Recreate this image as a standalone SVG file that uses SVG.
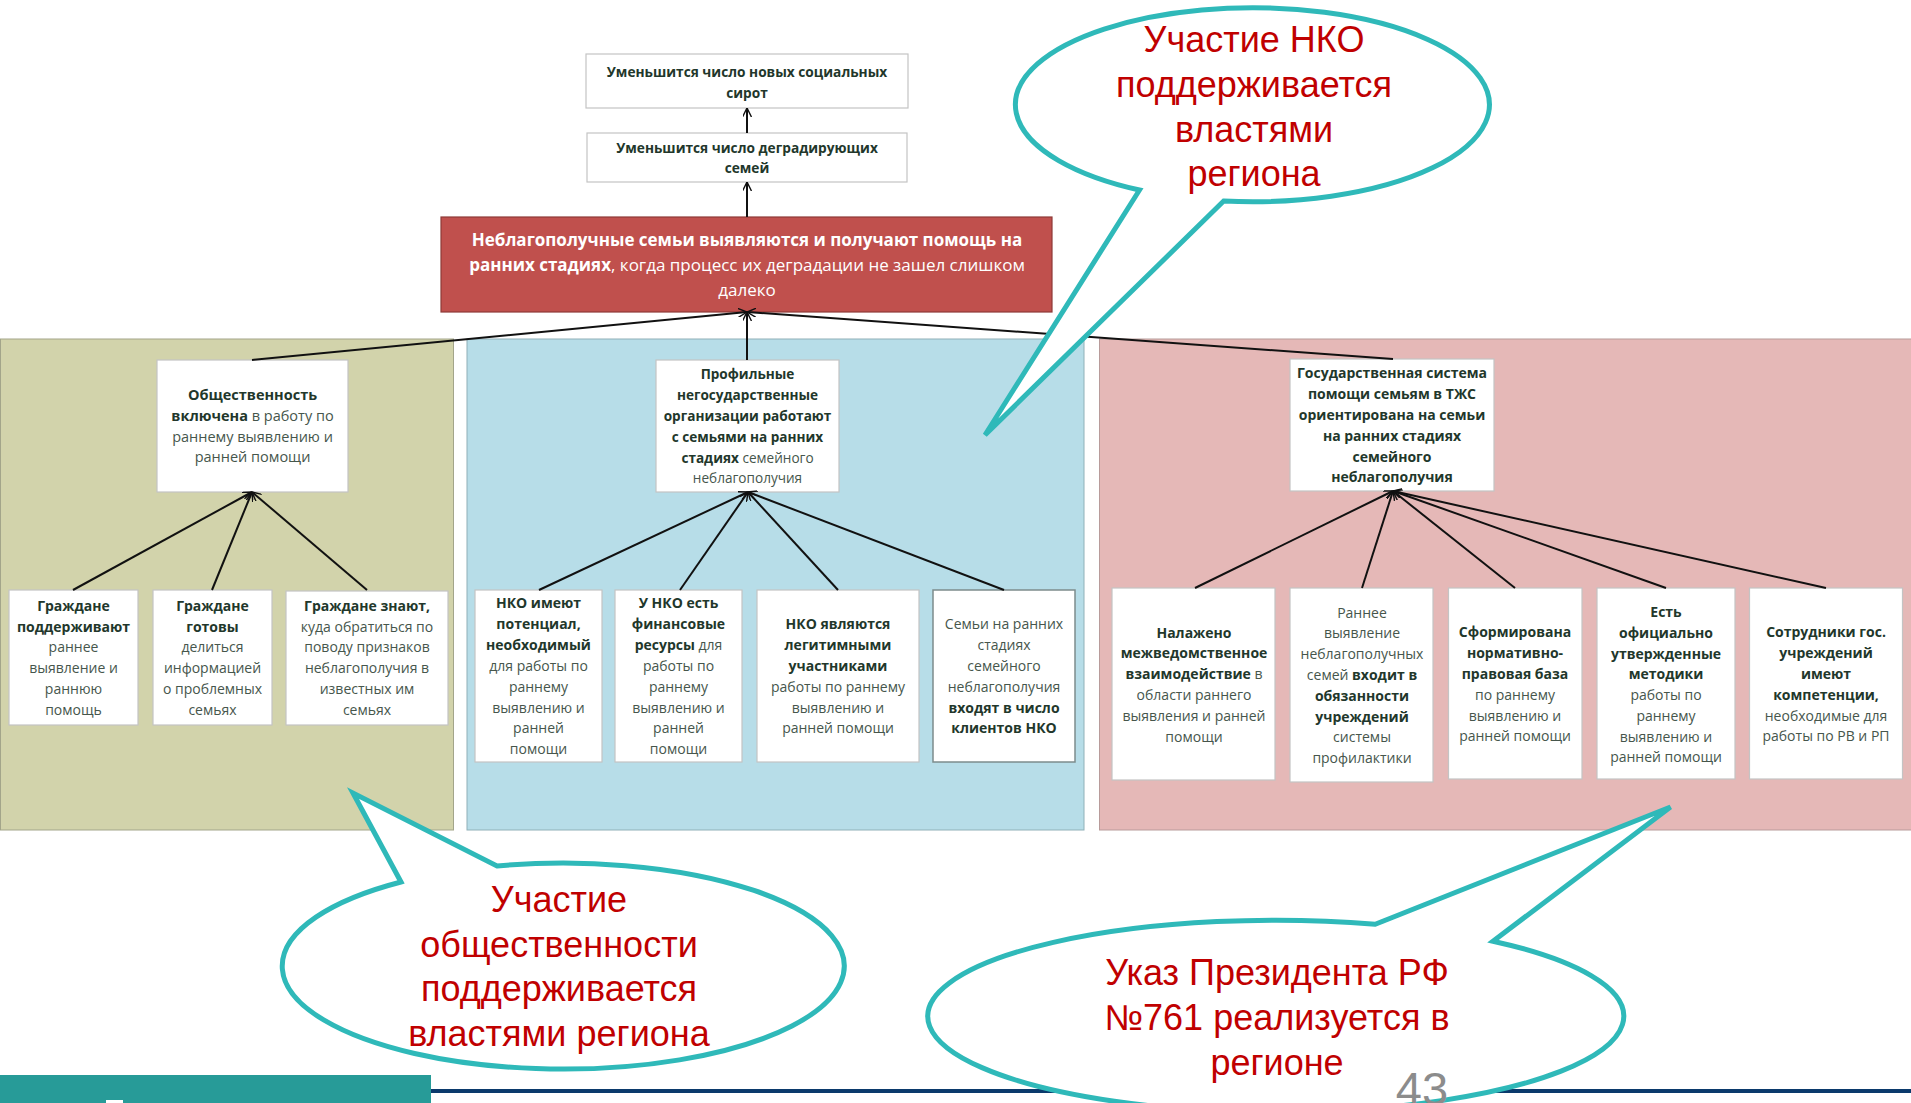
<svg xmlns="http://www.w3.org/2000/svg" width="1911" height="1103" viewBox="0 0 1911 1103">
<defs>
<style>
.box{fill:#ffffff;stroke:#c4c4c4;stroke-width:1.2}
.t{font-family:"Open Sans","Noto Sans","DejaVu Sans",sans-serif;font-size:14px;text-anchor:middle;fill:#46564c}
.t .b,.b{font-weight:700;fill:#22372b}
.tb{font-weight:700;fill:#22372b}
.s145{font-size:14.5px}
.s137{font-size:13.7px}
.s136{font-size:13.6px}
.rt{font-size:17px;fill:#ffffff}
.conn{stroke:#111;stroke-width:2;fill:none;marker-end:url(#arr)}
.bub{fill:#ffffff;stroke:#2fb9b9;stroke-width:5;stroke-linejoin:miter}
.bt{font-family:"Liberation Sans",Arial,sans-serif;font-size:36px;fill:#c00000;text-anchor:middle}
</style>
<marker id="arr" viewBox="0 0 10 10" refX="10" refY="5" markerWidth="9" markerHeight="9" markerUnits="userSpaceOnUse" orient="auto">
<path d="M0,0 L10,5 L0,10" fill="none" stroke="#111" stroke-width="1.6"/>
</marker>
</defs>
<rect x="0" y="0" width="1911" height="1103" fill="#ffffff"/>

<g id="panels">
<rect x="0.5" y="339" width="453" height="491" fill="#d2d3ab" stroke="#a3a58a" stroke-width="1"/>
<rect x="467" y="339" width="617" height="491" fill="#b7dde8" stroke="#8fb0b8" stroke-width="1"/>
<rect x="1099.5" y="339" width="812" height="491" fill="#e5b8b7" stroke="#b89b9a" stroke-width="1"/>
</g>

<g id="n-top1">
<rect class="box" x="586" y="54" width="322" height="54"/>
<text class="t tb s137" x="747" y="77">Уменьшится число новых социальных</text>
<text class="t tb s137" x="747" y="98">сирот</text>
</g>
<g id="n-top2">
<rect class="box" x="587" y="133" width="320" height="49"/>
<text class="t tb s137" x="747" y="153">Уменьшится число деградирующих</text>
<text class="t tb s137" x="747" y="173">семей</text>
</g>
<g id="n-main">
<rect x="441" y="217" width="611" height="95" fill="#c0504d" stroke="#8e3a37" stroke-width="1.2"/>
<text class="t rt" x="747" y="246" font-weight="700">Неблагополучные семьи  выявляются и получают помощь на</text>
<text class="t rt" x="747" y="271"><tspan font-weight="700">ранних стадиях</tspan>, когда процесс их деградации не зашел  слишком</text>
<text class="t rt" x="747" y="296">далеко</text>
</g>

<g id="n-public">
<rect class="box" x="157" y="360" width="191" height="132"/>
<text class="t s145" x="252.5" y="400"><tspan class="b">Общественность</tspan></text>
<text class="t s145" x="252.5" y="421"><tspan class="b">включена</tspan> в работу по</text>
<text class="t s145" x="252.5" y="442">раннему выявлению и</text>
<text class="t s145" x="252.5" y="462">ранней помощи</text>
</g>
<g id="n-a">
<rect class="box" x="9" y="590" width="129" height="135"/>
<text class="t" x="73.5" y="611"><tspan class="b">Граждане</tspan></text>
<text class="t" x="73.5" y="632"><tspan class="b">поддерживают</tspan></text>
<text class="t" x="73.5" y="652">раннее</text>
<text class="t" x="73.5" y="673">выявление и</text>
<text class="t" x="73.5" y="694">раннюю</text>
<text class="t" x="73.5" y="715">помощь</text>
</g>
<g id="n-b">
<rect class="box" x="153" y="590" width="119" height="135"/>
<text class="t" x="212.5" y="611"><tspan class="b">Граждане</tspan></text>
<text class="t" x="212.5" y="632"><tspan class="b">готовы</tspan></text>
<text class="t" x="212.5" y="652">делиться</text>
<text class="t" x="212.5" y="673">информацией</text>
<text class="t" x="212.5" y="694">о проблемных</text>
<text class="t" x="212.5" y="715">семьях</text>
</g>
<g id="n-c">
<rect class="box" x="286" y="591" width="162" height="134"/>
<text class="t" x="367" y="611"><tspan class="b">Граждане знают,</tspan></text>
<text class="t" x="367" y="632">куда обратиться по</text>
<text class="t" x="367" y="652">поводу признаков</text>
<text class="t" x="367" y="673">неблагополучия в</text>
<text class="t" x="367" y="694">известных им</text>
<text class="t" x="367" y="715">семьях</text>
</g>

<g id="n-nko">
<rect class="box" x="656" y="360" width="183" height="132"/>
<text class="t s136" x="747.5" y="379"><tspan class="b">Профильные</tspan></text>
<text class="t s136" x="747.5" y="400"><tspan class="b">негосударственные</tspan></text>
<text class="t s136" x="747.5" y="421"><tspan class="b">организации работают</tspan></text>
<text class="t s136" x="747.5" y="442"><tspan class="b">с семьями на ранних</tspan></text>
<text class="t s136" x="747.5" y="463"><tspan class="b">стадиях</tspan> семейного</text>
<text class="t s136" x="747.5" y="483">неблагополучия</text>
</g>
<g id="n-d">
<rect class="box" x="475" y="590" width="127" height="172"/>
<text class="t" x="538.5" y="608"><tspan class="b">НКО имеют</tspan></text>
<text class="t" x="538.5" y="629"><tspan class="b">потенциал,</tspan></text>
<text class="t" x="538.5" y="650"><tspan class="b">необходимый</tspan></text>
<text class="t" x="538.5" y="671">для работы по</text>
<text class="t" x="538.5" y="692">раннему</text>
<text class="t" x="538.5" y="713">выявлению и</text>
<text class="t" x="538.5" y="733">ранней</text>
<text class="t" x="538.5" y="754">помощи</text>
</g>
<g id="n-e">
<rect class="box" x="615" y="590" width="127" height="172"/>
<text class="t" x="678.5" y="608"><tspan class="b">У НКО есть</tspan></text>
<text class="t" x="678.5" y="629"><tspan class="b">финансовые</tspan></text>
<text class="t" x="678.5" y="650"><tspan class="b">ресурсы</tspan>  для</text>
<text class="t" x="678.5" y="671">работы по</text>
<text class="t" x="678.5" y="692">раннему</text>
<text class="t" x="678.5" y="713">выявлению и</text>
<text class="t" x="678.5" y="733">ранней</text>
<text class="t" x="678.5" y="754">помощи</text>
</g>
<g id="n-f">
<rect class="box" x="757" y="590" width="162" height="172"/>
<text class="t" x="838" y="629"><tspan class="b">НКО являются</tspan></text>
<text class="t" x="838" y="650"><tspan class="b">легитимными</tspan></text>
<text class="t" x="838" y="671"><tspan class="b">участниками</tspan></text>
<text class="t" x="838" y="692">работы  по раннему</text>
<text class="t" x="838" y="713">выявлению и</text>
<text class="t" x="838" y="733">ранней помощи</text>
</g>
<g id="n-g">
<rect class="box" x="933" y="590" width="142" height="172" style="stroke:#7d8c8c;stroke-width:1.5"/>
<text class="t" x="1004" y="629">Семьи на ранних</text>
<text class="t" x="1004" y="650">стадиях</text>
<text class="t" x="1004" y="671">семейного</text>
<text class="t" x="1004" y="692">неблагополучия</text>
<text class="t" x="1004" y="713"><tspan class="b">входят в число</tspan></text>
<text class="t" x="1004" y="733"><tspan class="b">клиентов НКО</tspan></text>
</g>

<g id="n-gov">
<rect class="box" x="1290" y="359" width="204" height="132"/>
<text class="t" x="1392" y="378"><tspan class="b">Государственная система</tspan></text>
<text class="t" x="1392" y="399"><tspan class="b">помощи семьям в ТЖС</tspan></text>
<text class="t" x="1392" y="420"><tspan class="b">ориентирована на семьи</tspan></text>
<text class="t" x="1392" y="441"><tspan class="b">на ранних стадиях</tspan></text>
<text class="t" x="1392" y="462"><tspan class="b">семейного</tspan></text>
<text class="t" x="1392" y="482"><tspan class="b">неблагополучия</tspan></text>
</g>
<g id="n-h">
<rect class="box" x="1112" y="588" width="163" height="192"/>
<text class="t" x="1194" y="638"><tspan class="b">Налажено</tspan></text>
<text class="t" x="1194" y="658"><tspan class="b">межведомственное</tspan></text>
<text class="t" x="1194" y="679"><tspan class="b">взаимодействие</tspan> в</text>
<text class="t" x="1194" y="700">области раннего</text>
<text class="t" x="1194" y="721">выявления и ранней</text>
<text class="t" x="1194" y="742">помощи</text>
</g>
<g id="n-i">
<rect class="box" x="1290" y="588" width="143" height="194"/>
<text class="t" x="1362" y="618">Раннее</text>
<text class="t" x="1362" y="638">выявление</text>
<text class="t" x="1362" y="659">неблагополучных</text>
<text class="t" x="1362" y="680">семей <tspan class="b">входит в</tspan></text>
<text class="t" x="1362" y="701"><tspan class="b">обязанности</tspan></text>
<text class="t" x="1362" y="722"><tspan class="b">учреждений</tspan></text>
<text class="t" x="1362" y="742">системы</text>
<text class="t" x="1362" y="763">профилактики</text>
</g>
<g id="n-j">
<rect class="box" x="1448.5" y="588" width="133.5" height="191"/>
<text class="t" x="1515" y="637"><tspan class="b">Сформирована</tspan></text>
<text class="t" x="1515" y="658"><tspan class="b">нормативно-</tspan></text>
<text class="t" x="1515" y="679"><tspan class="b">правовая база</tspan></text>
<text class="t" x="1515" y="700">по раннему</text>
<text class="t" x="1515" y="721">выявлению и</text>
<text class="t" x="1515" y="741">ранней помощи</text>
</g>
<g id="n-k">
<rect class="box" x="1597" y="588" width="138" height="191"/>
<text class="t" x="1666" y="617"><tspan class="b">Есть</tspan></text>
<text class="t" x="1666" y="638"><tspan class="b">официально</tspan></text>
<text class="t" x="1666" y="659"><tspan class="b">утвержденные</tspan></text>
<text class="t" x="1666" y="679"><tspan class="b">методики</tspan></text>
<text class="t" x="1666" y="700">работы по</text>
<text class="t" x="1666" y="721">раннему</text>
<text class="t" x="1666" y="742">выявлению и</text>
<text class="t" x="1666" y="762">ранней помощи</text>
</g>
<g id="n-l">
<rect class="box" x="1749.5" y="588" width="153" height="191"/>
<text class="t" x="1826" y="637"><tspan class="b">Сотрудники гос.</tspan></text>
<text class="t" x="1826" y="658"><tspan class="b">учреждений</tspan></text>
<text class="t" x="1826" y="679"><tspan class="b">имеют</tspan></text>
<text class="t" x="1826" y="700"><tspan class="b">компетенции,</tspan></text>
<text class="t" x="1826" y="721">необходимые для</text>
<text class="t" x="1826" y="741">работы по РВ и РП</text>
</g>

<g id="connectors">
<line class="conn" x1="747" y1="133" x2="747" y2="108"/>
<line class="conn" x1="747" y1="217" x2="747" y2="182"/>
<line class="conn" x1="252" y1="360" x2="747" y2="312"/>
<line class="conn" x1="747" y1="360" x2="747" y2="312"/>
<line class="conn" x1="1393" y1="359" x2="747" y2="312"/>
<line class="conn" x1="73" y1="590" x2="252" y2="492"/>
<line class="conn" x1="212" y1="590" x2="252" y2="492"/>
<line class="conn" x1="367" y1="590" x2="252" y2="492"/>
<line class="conn" x1="539" y1="590" x2="748" y2="492"/>
<line class="conn" x1="680" y1="590" x2="748" y2="492"/>
<line class="conn" x1="838" y1="590" x2="748" y2="492"/>
<line class="conn" x1="1004" y1="590" x2="748" y2="492"/>
<line class="conn" x1="1195" y1="588" x2="1393" y2="491"/>
<line class="conn" x1="1362" y1="588" x2="1393" y2="491"/>
<line class="conn" x1="1515" y1="588" x2="1393" y2="491"/>
<line class="conn" x1="1666" y1="588" x2="1393" y2="491"/>
<line class="conn" x1="1826" y1="588" x2="1393" y2="491"/>
</g>

<g id="footer">
<rect x="0" y="1075" width="431" height="28" fill="#279b98"/>
<rect x="106" y="1100" width="17" height="3" fill="#ffffff"/>
<rect x="431" y="1089" width="1480" height="4" fill="#0b3a6c"/>
</g>

<g id="bubble-nko">
<path class="bub" d="M1223.7,201 A237,97 0 1 0 1139.5,190 L985,435 Z"/>
<text class="bt" x="1254" y="52">Участие НКО</text>
<text class="bt" x="1254" y="97">поддерживается</text>
<text class="bt" x="1254" y="142">властями</text>
<text class="bt" x="1254" y="186">региона</text>
</g>
<g id="bubble-public">
<path class="bub" d="M497,866 A281,103 0 1 1 401,882 L353,793 Z"/>
<text class="bt" x="559" y="912">Участие</text>
<text class="bt" x="559" y="957">общественности</text>
<text class="bt" x="559" y="1001">поддерживается</text>
<text class="bt" x="559" y="1046">властями региона</text>
</g>
<g id="bubble-ukaz">
<path class="bub" d="M1493,941.2 A348,96 0 1 1 1375.2,924.2 L1670.5,807 Z"/>
<text class="bt" x="1277" y="985">Указ Президента РФ</text>
<text class="bt" x="1277" y="1030">№761 реализуется в</text>
<text class="bt" x="1277" y="1075">регионе</text>
</g>
<text x="1422" y="1105" font-family="Liberation Sans,Arial,sans-serif" font-size="47" fill="#8c8c8c" text-anchor="middle">43</text>
</svg>
